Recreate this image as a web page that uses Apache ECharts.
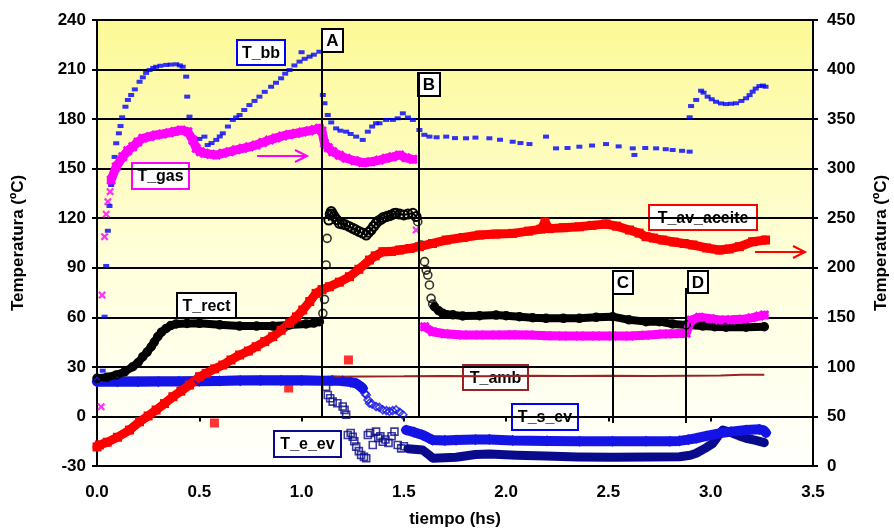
<!DOCTYPE html>
<html>
<head>
<meta charset="utf-8">
<script src="https://cdn.jsdelivr.net/npm/echarts@6/dist/echarts.min.js"></script>
<style>
  html, body { margin: 0; padding: 0; background: #fff; }
  #chart { width: 894px; height: 529px; }
</style>
</head>
<body>
<div id="chart"></div>
<script>
// tiempo (hs) / temperatura (ºC)
// T_bb, T_rect, T_amb, T_s_ev, T_e_ev -> eje izquierdo; T_gas, T_av_aceite -> eje derecho
const tBb = [
  [0.028, 27.7], [0.037, 60.4], [0.045, 91.1], [0.053, 112.4], [0.061, 127.4], [0.069, 140.1],
  [0.086, 157.1], [0.094, 165.4], [0.107, 171.4], [0.115, 175.8], [0.123, 181.1], [0.139, 187.5],
  [0.151, 191.6], [0.167, 194.6], [0.185, 198], [0.208, 202.6], [0.224, 205.3], [0.24, 208],
  [0.257, 209.7], [0.275, 211], [0.289, 211.7], [0.31, 212.3], [0.338, 212.8], [0.36, 213],
  [0.387, 213.2], [0.405, 212.5], [0.419, 211.7], [0.436, 205.7], [0.441, 193.6], [0.452, 181.5],
  [0.477, 166.3], [0.5, 168], [0.525, 169.4], [0.541, 164.3], [0.56, 165.5], [0.583, 167.4],
  [0.6, 169.5], [0.615, 171.4], [0.64, 175.5], [0.664, 179.5], [0.68, 181], [0.697, 182.5],
  [0.72, 185.5], [0.745, 188.5], [0.77, 191], [0.794, 193.6], [0.82, 196.5], [0.851, 199.6],
  [0.875, 202], [0.9, 204.7], [0.92, 207.5], [0.941, 209.7], [0.965, 212.5], [0.99, 214.8],
  [1.0, 220.5], [1.015, 216.5], [1.039, 217.8], [1.06, 219], [1.087, 220.8],
  [1.104, 194.6], [1.112, 189.6], [1.128, 182.5], [1.145, 178], [1.169, 174.4], [1.19, 173],
  [1.218, 172.4], [1.24, 171], [1.267, 169.4], [1.299, 167.4], [1.324, 172.4], [1.345, 175.5],
  [1.364, 177.5], [1.381, 177.5], [1.413, 179.5], [1.446, 179.5], [1.47, 180.5], [1.495, 183.5],
  [1.52, 181], [1.544, 179.5], [1.576, 173.4],
  [1.6, 170.5], [1.625, 169.4], [1.66, 169], [1.707, 169.4], [1.75, 168.5], [1.804, 168.4],
  [1.85, 168.8], [1.918, 168.4], [1.97, 167.5], [2.032, 166.3], [2.07, 165.5], [2.114, 164.9],
  [2.195, 169.4], [2.244, 162.3], [2.3, 162.5], [2.358, 163.3], [2.42, 164], [2.488, 164.9],
  [2.55, 163.5], [2.619, 162.3], [2.627, 158.3], [2.68, 162.5], [2.733, 162.3], [2.78, 161.8],
  [2.814, 161.3], [2.86, 160.8], [2.897, 160.3],
  [2.897, 181.1], [2.904, 187.9], [2.929, 191.6], [2.953, 197.2], [2.965, 196], [2.985, 193.6],
  [3.005, 192], [3.026, 190.5], [3.05, 189.5], [3.075, 189.1], [3.1, 189.3], [3.124, 189.6],
  [3.15, 191], [3.173, 192.6], [3.19, 194.5], [3.205, 196.6], [3.22, 198.5], [3.238, 200],
  [3.255, 200.3], [3.268, 199.6]
]

const tGasStart = [[0.0, 20], [0.02, 59.8], [0.025, 172.5], [0.037, 231.4], [0.045, 254], [0.053, 266.7], [0.064, 276.8], [1.56, 238.1]]
const tGas = [
  [0.069, 288.6], [0.094, 302], [0.126, 312.1], [0.15, 318], [0.175, 322.2], [0.2, 327],
  [0.224, 330.6], [0.26, 332.5], [0.289, 334], [0.32, 335], [0.354, 336.3], [0.38, 337.5],
  [0.411, 339], [0.444, 337.3], [0.468, 328.9], [0.485, 320.5], [0.505, 317], [0.525, 315.5],
  [0.555, 314.5], [0.583, 313.8], [0.615, 315.5], [0.648, 317.1], [0.68, 319], [0.713, 320.5],
  [0.745, 322], [0.778, 323.9], [0.81, 326.5], [0.843, 328.9], [0.875, 331], [0.908, 333],
  [0.94, 334.5], [0.974, 335.7], [1.005, 337], [1.039, 338.3], [1.065, 339.5], [1.087, 340.7],
  [1.1, 338], [1.112, 325.6], [1.13, 321], [1.152, 317.1], [1.185, 313.5], [1.218, 310.5],
  [1.26, 308], [1.299, 306], [1.34, 307], [1.381, 308.7], [1.413, 310.5], [1.445, 312],
  [1.479, 313.8], [1.51, 311], [1.544, 309.4],
  [1.56, '-'],
  [1.601, 140.5], [1.641, 135.5], [1.7, 133.5], [1.788, 132.2], [1.87, 132.2], [1.951, 132.2],
  [2.03, 132.5], [2.114, 132.2], [2.2, 131.5], [2.277, 131.2], [2.36, 131.2], [2.44, 131.2],
  [2.52, 131.2], [2.603, 131.2], [2.68, 132], [2.765, 133.2], [2.82, 133.5], [2.88, 133.9],
  [2.904, 147.3], [2.945, 150], [3.0, 148.5], [3.042, 147.3], [3.1, 147.5], [3.156, 148],
  [3.2, 149.5], [3.238, 151.3], [3.262, 152.3]
]

const tRect = [
  [0.0, 23.1], [0.05, 23.8], [0.094, 25.1], [0.135, 27], [0.175, 30.1], [0.2, 32.5],
  [0.224, 36.2], [0.245, 39], [0.265, 42.2], [0.28, 45], [0.297, 48.3], [0.315, 51],
  [0.338, 53.3], [0.36, 55], [0.387, 56], [0.44, 56.3], [0.501, 56.4], [0.6, 55.5],
  [0.697, 54.7], [0.78, 54.7], [0.859, 54.7], [0.94, 55.3], [1.022, 56], [1.06, 56.5], [1.087, 57.4],
  [1.1, '-'],
  [1.65, 66.4], [1.67, 64], [1.69, 62.4], [1.74, 61.5], [1.788, 60.8], [1.87, 61], [1.951, 61.4],
  [2.0, 61], [2.065, 60.4], [2.13, 59.8], [2.195, 59.4], [2.28, 59.4], [2.358, 59.4], [2.44, 60],
  [2.521, 60.4], [2.6, 58.5], [2.684, 57.4], [2.749, 57.4], [2.814, 56], [2.88, 55.4],
  [2.961, 54.7], [3.02, 54.3], [3.075, 54], [3.173, 54], [3.262, 54.3]
]
// tramo entre A y B (círculos huecos apretados)
const tRectMid = [
  [1.133, 118.9], [1.14, 122.5], [1.145, 124], [1.152, 122.5], [1.16, 121], [1.172, 119],
  [1.185, 116.9], [1.2, 116.5], [1.215, 116], [1.232, 115], [1.25, 113.9], [1.265, 113],
  [1.28, 112], [1.298, 111], [1.316, 109.8], [1.328, 111.5], [1.34, 113], [1.352, 115],
  [1.364, 116.9], [1.377, 118.5], [1.39, 119.5], [1.4, 120.5], [1.413, 120.9], [1.427, 121.5],
  [1.44, 122], [1.452, 122.8], [1.462, 123], [1.48, 122.5], [1.5, 122], [1.52, 122.5],
  [1.544, 123], [1.56, 121]
]
const tRectDrop = [
  [1.104, 62.4], [1.112, 70.9], [1.12, 91.7], [1.125, 107.8],
  [1.568, 117.9], [1.585, 103.8], [1.601, 93.7], [1.609, 88.6], [1.617, 85.6], [1.625, 79.6],
  [1.633, 71.5], [1.641, 68]
]

const tAceite = [
  [0.0, 19.2], [0.012, 21.2], [0.05, 24], [0.1, 29], [0.159, 36.3], [0.208, 44.7], [0.25, 50.5],
  [0.289, 56.5], [0.33, 63], [0.371, 69.9], [0.41, 75.5], [0.452, 81.7], [0.501, 90.1],
  [0.534, 93.5], [0.575, 98], [0.615, 101.9], [0.655, 107], [0.697, 112], [0.74, 116],
  [0.778, 120.4], [0.82, 125.5], [0.859, 130.5], [0.9, 137], [0.941, 144], [0.975, 150.5],
  [1.006, 157.4], [1.04, 166], [1.071, 174.2], [1.1, 178], [1.136, 180.9], [1.185, 185.5],
  [1.234, 191], [1.28, 198.5], [1.332, 207.8], [1.36, 212], [1.397, 216.2], [1.44, 216.5],
  [1.479, 217.9], [1.53, 219.5], [1.576, 221.3], [1.64, 224.5], [1.707, 228], [1.79, 230.5],
  [1.87, 233], [1.95, 234], [2.032, 234.7], [2.11, 237], [2.17, 239], [2.19, 246.2],
  [2.21, 239.5], [2.28, 240.5], [2.358, 241.4], [2.42, 242.8], [2.488, 244.2], [2.54, 242],
  [2.603, 238.1], [2.65, 235], [2.684, 231.4], [2.72, 230], [2.765, 228], [2.82, 226],
  [2.87, 224.5], [2.913, 223], [2.98, 220], [3.042, 217.9], [3.09, 219], [3.14, 221.3],
  [3.205, 226.3], [3.268, 228]
]
const tAceiteSueltos = [[0.574, 43.4], [0.937, 78.7], [1.229, 107]]

const tAmb = [
  [1.15, 24], [1.3, 24.2], [1.5, 24.3], [1.7, 24.5], [1.9, 24.4], [2.1, 24.6], [2.3, 24.5],
  [2.5, 24.6], [2.7, 24.5], [2.9, 24.7], [3.05, 24.8], [3.15, 25.2], [3.262, 25.3]
]

const tSEv = [
  [0.0, 21], [0.1, 21], [0.2, 21], [0.3, 21.1], [0.4, 21.2], [0.5, 21.3], [0.6, 21.5],
  [0.7, 21.7], [0.8, 21.8], [0.9, 21.8], [1.0, 21.8], [1.1, 21.6], [1.15, 21.8], [1.201, 21.5],
  [1.24, 20.8], [1.267, 20], [1.285, 18.5], [1.299, 17],
  [1.305, '-'],
  [1.511, -8.2], [1.55, -9.5], [1.592, -11.2], [1.62, -13], [1.641, -14.3], [1.7, -14.5],
  [1.755, -14.3], [1.85, -14], [1.918, -13.9], [2.032, -14.5], [2.2, -14.8], [2.358, -15],
  [2.52, -15], [2.684, -15], [2.8, -15], [2.847, -14.8], [2.89, -14], [2.929, -13.2],
  [2.98, -11.8], [3.042, -10.2], [3.1, -9.2], [3.173, -8.2], [3.238, -7.8], [3.26, -8.5], [3.27, -9.9]
]
const tSEvDrop = [
  [1.31, 14], [1.316, 13], [1.325, 10], [1.332, 8], [1.345, 7.5], [1.364, 6], [1.38, 5.5],
  [1.397, 4], [1.415, 3.5], [1.43, 3], [1.445, 3.5], [1.462, 4], [1.48, 2.5], [1.495, 1]
]

const tEEv = [
  [0.0, 21.5], [0.2, 21.5], [0.4, 21.5], [0.6, 21.8], [0.8, 22], [1.0, 22], [1.09, 21.8],
  [1.1, '-'],
  [1.52, -19.5], [1.592, -20.3], [1.62, -23], [1.641, -25.3], [1.7, -25], [1.755, -24.7],
  [1.85, -23], [1.918, -22.8], [2.05, -23.5], [2.195, -24], [2.35, -24.5], [2.521, -24.7],
  [2.7, -24.5], [2.847, -24.4], [2.9, -23.5], [2.929, -22.3], [2.97, -19.5], [3.01, -16.3],
  [3.035, -12], [3.059, -8.2], [3.08, -9], [3.108, -10.2], [3.14, -11.8], [3.173, -13.2],
  [3.22, -14.5], [3.262, -15.9]
]
const tEEvDrop = [
  [1.12, 18], [1.128, 13], [1.14, 11], [1.152, 9], [1.175, 8], [1.201, 6], [1.21, 4], [1.218, 1],
  [1.226, -11.2], [1.24, -10], [1.25, -12.3], [1.258, -15], [1.267, -18.3], [1.28, -21],
  [1.291, -23.3], [1.305, -24.5], [1.316, -25.3], [1.324, -11.2], [1.335, -10], [1.348, -17.3],
  [1.364, -9.2], [1.375, -13], [1.385, -12], [1.397, -15.3], [1.41, -14], [1.425, -16],
  [1.44, -12], [1.454, -9.2], [1.47, -17.3], [1.487, -19.3], [1.5, -18]
]

// instantes A, B, C, D (hs)
const eventos = ['A', 'B', 'C', 'D']
const eventoT = [1.097, 1.571, 2.52, 2.876]

const FONT = '"Liberation Sans", Arial, sans-serif'
const X_MARK = 'path://M0,2L2,0L5,3L8,0L10,2L7,5L10,8L8,10L5,7L2,10L0,8L3,5Z'

const chart = echarts.init(document.getElementById('chart'), null, { renderer: 'canvas' })

// banda densa de marcadores (línea gruesa + marcadores encima)
function band(name, data, color, width, symbol, size, axis) {
  const filled = symbol === X_MARK || symbol === 'rect'
  return {
    name, type: 'line', data, yAxisIndex: axis,
    symbol, symbolSize: size, showSymbol: symbol !== 'none', connectNulls: false,
    lineStyle: { color, width, cap: 'round', join: 'round' },
    itemStyle: { color: filled ? color : 'rgba(0,0,0,0)', borderColor: color, borderWidth: filled ? 0 : 1.5 },
    emphasis: { disabled: true }, silent: true,
  }
}
// marcadores sueltos
function dots(name, data, color, symbol, size, axis, hollow) {
  return {
    name, type: 'scatter', data, yAxisIndex: axis, symbol, symbolSize: size,
    itemStyle: hollow ? { color: 'rgba(0,0,0,0)', borderColor: color, borderWidth: 1.6 } : { color },
    emphasis: { disabled: true }, silent: true,
  }
}

const axisText = { color: '#000', fontFamily: FONT, fontWeight: 'bold', fontSize: 17 }

// cajas de texto y flechas
function tag(x, y, w, h, text, color, size) {
  return {
    type: 'group', x, y, z: 100,
    children: [
      { type: 'rect', shape: { x: 0, y: 0, width: w, height: h }, style: { fill: '#fff', stroke: color, lineWidth: 2 } },
      { type: 'text', x: w / 2, y: h / 2 + 1, style: { text, fill: '#000', font: `bold ${size || 16}px ${FONT}`, align: 'center', verticalAlign: 'middle' } },
    ],
  }
}
function arrow(x1, x2, y, color) {
  return {
    type: 'group', z: 100,
    children: [
      { type: 'line', shape: { x1, y1: y, x2: x2 - 2, y2: y }, style: { stroke: color, lineWidth: 2 } },
      { type: 'polyline', shape: { points: [[x2 - 12, y - 6], [x2, y], [x2 - 12, y + 6]] }, style: { stroke: color, lineWidth: 2, fill: null } },
    ],
  }
}

const eventLines = eventos.map((n, i) => {
  const top = [234, 208, 88.6, 77.7][i]
  const bottom = [0, 0, -4, -4][i]
  return [{ coord: [eventoT[i], top] }, { coord: [eventoT[i], bottom] }]
})

chart.setOption({
  animation: false,
  grid: {
    left: 97, right: 81, top: 20, bottom: 63, show: true, borderWidth: 0,
    outerBoundsMode: 'none', containLabel: false,
    backgroundColor: new echarts.graphic.LinearGradient(0, 0, 0, 1, [
      { offset: 0, color: '#FCF996' },
      { offset: 0.55, color: '#FFFFDC' },
      { offset: 1, color: '#FFFFFD' },
    ]),
  },
  xAxis: {
    type: 'value', min: 0, max: 3.5, interval: 0.5,
    name: 'tiempo (hs)', nameLocation: 'middle', nameGap: 45,
    nameTextStyle: axisText,
    axisLine: { lineStyle: { color: '#000', width: 2 } },
    axisTick: { show: true, length: 5, lineStyle: { color: '#000', width: 2 } },
    axisLabel: { ...axisText, margin: 18, formatter: (v) => v.toFixed(1) },
    splitLine: { show: false },
  },
  yAxis: [
    {
      type: 'value', min: -30, max: 240, interval: 30,
      name: 'Temperatura (ºC)', nameLocation: 'middle', nameGap: 70, nameRotate: 90,
      nameTextStyle: axisText,
      axisLine: { show: true, lineStyle: { color: '#000', width: 2 } },
      axisTick: { show: true, length: 5, lineStyle: { color: '#000', width: 2 } },
      axisLabel: { ...axisText, margin: 11 },
      splitLine: { show: true, lineStyle: { color: '#000', width: 2 } },
    },
    {
      type: 'value', min: 0, max: 450, interval: 50, position: 'right',
      name: 'Temperatura (ºC)', nameLocation: 'middle', nameGap: 60, nameRotate: 90,
      nameTextStyle: axisText,
      axisLine: { show: true, lineStyle: { color: '#000', width: 2 } },
      axisTick: { show: true, length: 5, lineStyle: { color: '#000', width: 2 } },
      axisLabel: { ...axisText, margin: 14 },
      splitLine: { show: false },
    },
  ],
  series: [
    band('T_e_ev', tEEv, '#0A0A8C', 9, 'none', 8, 0),
    dots('T_e_ev sueltos', tEEvDrop, '#0A0A8C', 'rect', 7, 0, true),
    band('T_s_ev', tSEv, '#1414E6', 10, 'diamond', 9, 0),
    dots('T_s_ev sueltos', tSEvDrop, '#1414E6', 'diamond', 8, 0, true),
    {
      name: 'T_amb', type: 'line', data: tAmb, yAxisIndex: 0, showSymbol: false,
      lineStyle: { color: '#992222', width: 2 }, silent: true,
    },
    {
      ...band('T_rect', tRect, '#000', 8, 'circle', 8, 0),
      markLine: {
        silent: true, symbol: 'none', animation: false,
        lineStyle: { color: '#000', width: 2, type: 'solid' },
        label: { show: false },
        data: eventLines,
      },
    },
    {
      ...band('T_rect A-B', tRectMid, '#000', 2, 'circle', 9, 0),
      itemStyle: { color: 'rgba(0,0,0,0)', borderColor: '#000', borderWidth: 2 },
    },
    dots('T_rect sueltos', tRectDrop, '#000', 'circle', 8, 0, true),
    band('T_gas', tGas, '#FF00FF', 9, X_MARK, 10, 1),
    dots('T_gas sueltos', tGasStart, '#FF00FF', X_MARK, 8, 1, false),
    dots('T_bb', tBb, '#0000FF', 'rect', [6, 4], 0, false),
    band('T_av_aceite', tAceite, '#FF0000', 9, 'rect', 9, 1),
    dots('T_av_aceite sueltos', tAceiteSueltos, '#FF0000', 'rect', 9, 1, false),
  ],
  graphic: [
    tag(237, 40, 48, 25, 'T_bb', '#0000FF'),
    tag(132, 163, 57, 26, 'T_gas', '#FF00FF'),
    tag(177, 293, 59, 25, 'T_rect', '#000'),
    tag(649, 205, 108, 25, 'T_av_aceite', '#FF0000'),
    tag(463, 365, 65, 25, 'T_amb', '#992222'),
    tag(512, 404, 66, 26, 'T_s_ev', '#0000FF'),
    tag(274, 431, 67, 26, 'T_e_ev', '#0A0A8C'),
    tag(322, 29, 21, 23, eventos[0], '#000', 17),
    tag(418, 73, 22, 23, eventos[1], '#000', 17),
    tag(613, 271, 20, 23, eventos[2], '#000', 17),
    tag(688, 271, 20, 22, eventos[3], '#000', 17),
    arrow(257, 307, 156, '#FF00FF'),
    arrow(755, 805, 252, '#FF0000'),
  ],
})
</script>
</body>
</html>
